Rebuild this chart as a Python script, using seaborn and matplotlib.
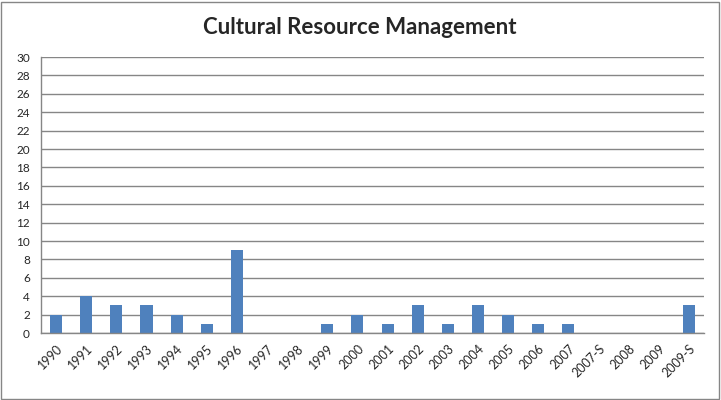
import matplotlib
matplotlib.use("Agg")
import matplotlib.pyplot as plt
import seaborn as sns
import pandas as pd
import numpy as np
from matplotlib.patches import Rectangle

categories = ["1990", "1991", "1992", "1993", "1994", "1995", "1996", "1997", "1998", "1999",
              "2000", "2001", "2002", "2003", "2004", "2005", "2006", "2007", "2007-S", "2008",
              "2009", "2009-S"]
values = [2, 4, 3, 3, 2, 1, 9, 0, 0, 1, 2, 1, 3, 1, 3, 2, 1, 1, 0, 0, 0, 3]
y_ticks = list(range(0, 31, 2))
title = "Cultural Resource Management"

sns.set_style("white")
plt.rcParams['font.family'] = ['Lato', 'DejaVu Sans']

df = pd.DataFrame({"cat": categories, "val": values})

fig = plt.figure(figsize=(7.21, 4.0), dpi=100)
ax = fig.add_axes([41/721, 1 - 333/400, (704-41)/721, (333-57)/400])

sns.barplot(data=df, x="cat", y="val", color="#4F81BD", saturation=1, width=0.4, ax=ax,
            linewidth=0, edgecolor="none")
for p in ax.patches:
    p.set_zorder(3)

ax.set_ylim(0, 30)
ax.set_xlim(-0.5, len(categories) - 0.5)
ax.set_yticks(y_ticks)
ax.set_yticklabels([str(t) for t in y_ticks], fontsize=8.5, family=['Lato', 'DejaVu Sans'])
ax.set_axisbelow(True)
ax.yaxis.grid(True, color="#868686", linewidth=1, zorder=0)
ax.set_xlabel("")
ax.set_ylabel("")

ax.set_xticks(range(len(categories)))
ax.set_xticklabels(categories, rotation=45, ha="right", rotation_mode="anchor",
                   fontsize=9, family=['Lato', 'DejaVu Sans'])
ax.tick_params(axis="x", which="major", length=0, pad=7)
ax.set_xticks(np.arange(-0.5, len(categories), 1), minor=True)
ax.tick_params(axis="x", which="minor", length=4, color="#868686", direction="out", width=1)
ax.tick_params(axis="y", length=4, color="#868686", direction="out", width=1, pad=4)

for s in ["top", "right"]:
    ax.spines[s].set_visible(False)
for s in ["left", "bottom"]:
    ax.spines[s].set_color("#868686")
    ax.spines[s].set_linewidth(1)
    ax.spines[s].set_zorder(4)

fig.text(360/721, 1 - 27/400, title, ha="center", va="center", fontsize=16, fontweight="bold")

fig.patches.append(Rectangle((1/721, 1/400), 718/721, 397/400, transform=fig.transFigure,
                             fill=False, edgecolor="#868686", linewidth=1))

fig.savefig("out.png", dpi=100)
